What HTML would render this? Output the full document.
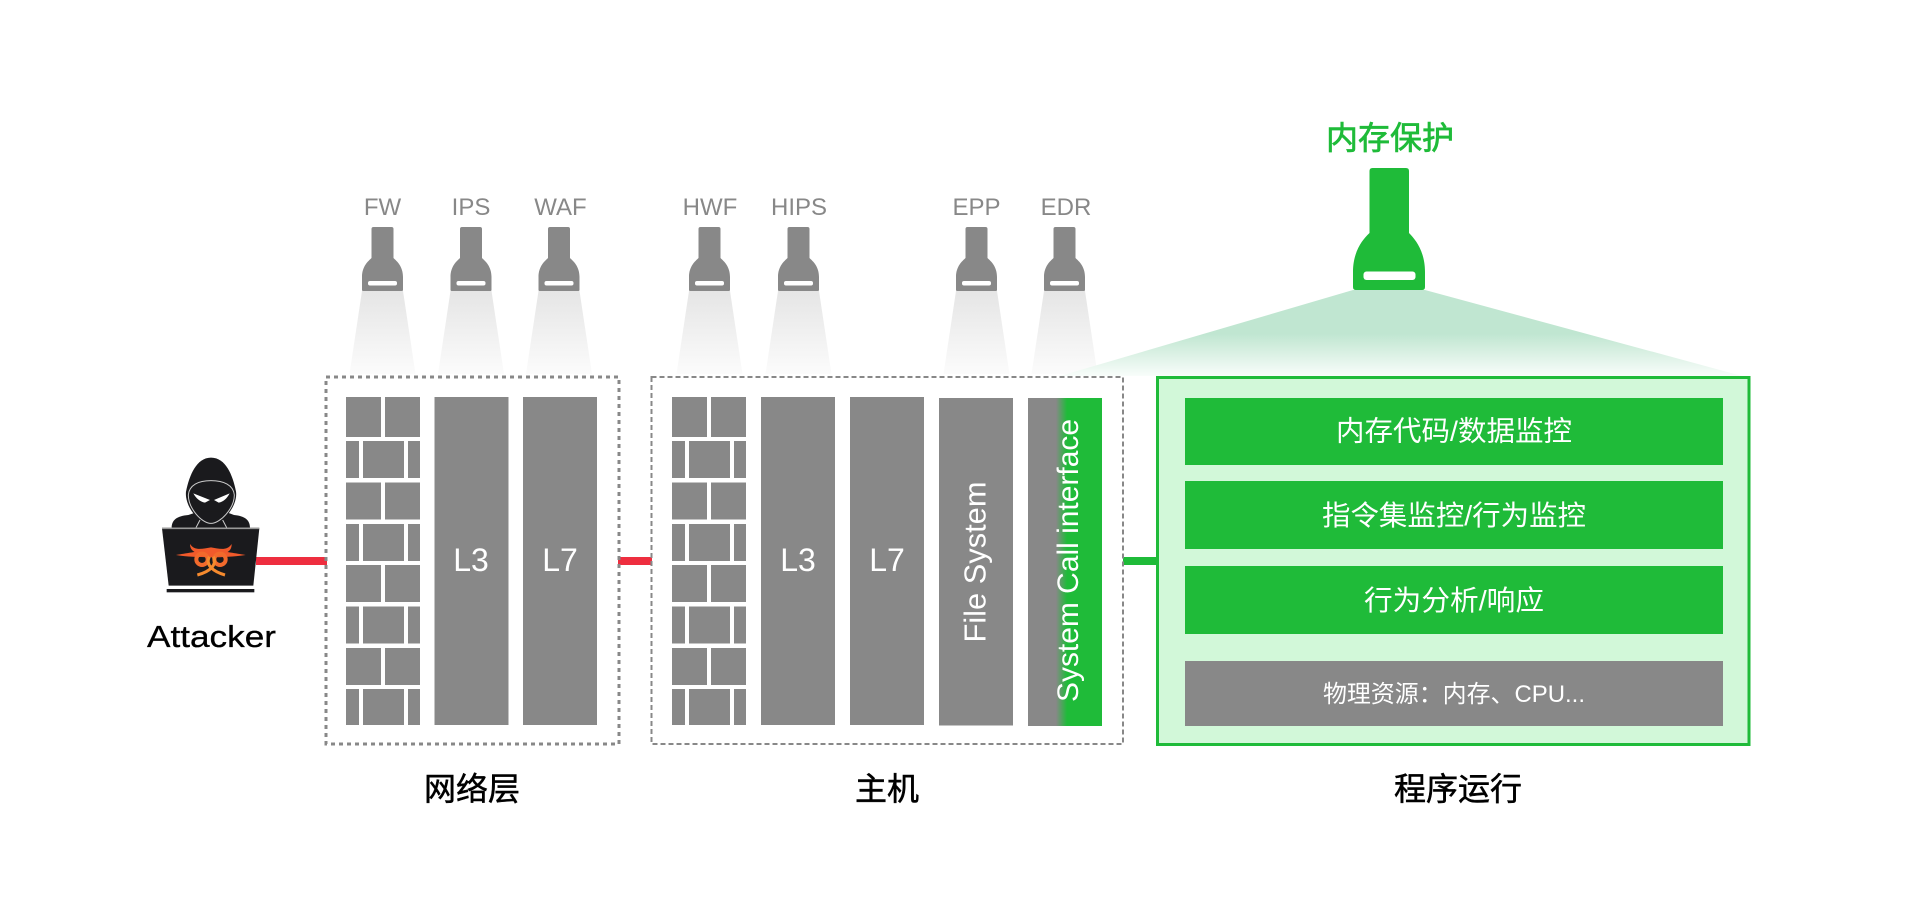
<!DOCTYPE html>
<html lang="zh"><head><meta charset="utf-8"><title>内存保护</title>
<style>
html,body{margin:0;padding:0;background:#fff;width:1920px;height:900px;overflow:hidden}
svg{display:block}
text{font-family:"Liberation Sans","Noto Sans CJK SC",sans-serif}
</style></head><body>
<svg width="1920" height="900" viewBox="0 0 1920 900" xmlns="http://www.w3.org/2000/svg">
<defs>
<linearGradient id="gb" gradientUnits="userSpaceOnUse" x1="0" y1="291" x2="0" y2="376">
<stop offset="0" stop-color="#e5e5e5"/><stop offset="1" stop-color="#fcfcfc"/></linearGradient>
<linearGradient id="ggb" gradientUnits="userSpaceOnUse" x1="0" y1="290" x2="0" y2="378">
<stop offset="0" stop-color="#c0e6d1"/><stop offset=".5" stop-color="#c0e6d1"/><stop offset="1" stop-color="#fbfefc"/></linearGradient>
<linearGradient id="sc" gradientUnits="userSpaceOnUse" x1="1056" y1="0" x2="1067" y2="0">
<stop offset="0" stop-color="#888"/><stop offset="1" stop-color="#1fbb39"/></linearGradient>
<g id="lamp">
<polygon points="-20.5,291 20.5,291 33,374 -33,374" fill="url(#gb)"/>
<path d="M-11,229 Q-11,227 -9,227 H9 Q11,227 11,229 V258 C14,261 20.5,266 20.5,277 V290 Q20.5,291 19.5,291 H-19.5 Q-20.5,291 -20.5,290 V277 C-20.5,266 -14,261 -11,258 Z" fill="#888"/>
<rect x="-14.5" y="281" width="29" height="4.5" rx="2" fill="#fff"/>
</g>
<g id="wall" fill="#888">
<rect x="0" y="397" width="35" height="40"/><rect x="39" y="397" width="35" height="40"/>
<rect x="0" y="441" width="13" height="37"/><rect x="17" y="441" width="41" height="37"/><rect x="62" y="441" width="12" height="37"/>
<rect x="0" y="482.5" width="35" height="37"/><rect x="39" y="482.5" width="35" height="37"/>
<rect x="0" y="524" width="13" height="37"/><rect x="17" y="524" width="41" height="37"/><rect x="62" y="524" width="12" height="37"/>
<rect x="0" y="565" width="35" height="37"/><rect x="39" y="565" width="35" height="37"/>
<rect x="0" y="606.5" width="13" height="37"/><rect x="17" y="606.5" width="41" height="37"/><rect x="62" y="606.5" width="12" height="37"/>
<rect x="0" y="648" width="35" height="37"/><rect x="39" y="648" width="35" height="37"/>
<rect x="0" y="689" width="13" height="36"/><rect x="17" y="689" width="41" height="36"/><rect x="62" y="689" width="12" height="36"/>
</g>
</defs>

<!-- lamps -->
<use href="#lamp" x="382.5"/><use href="#lamp" x="471"/><use href="#lamp" x="559"/>
<use href="#lamp" x="709.5"/><use href="#lamp" x="798.5"/><use href="#lamp" x="976.5"/><use href="#lamp" x="1064.5"/>
<g fill="#888" font-size="24" text-anchor="middle">
<text x="382.5" y="215">FW</text><text x="471" y="215">IPS</text><text x="560.5" y="215">WAF</text>
<text x="710" y="215">HWF</text><text x="799" y="215">HIPS</text><text x="976.5" y="215">EPP</text><text x="1066" y="215">EDR</text>
</g>

<!-- green lamp -->
<polygon points="1353,290 1425,290 1742,376 1060,376" fill="url(#ggb)"/>
<path d="M1369.5,171 Q1369.5,168 1372.5,168 H1406 Q1409,168 1409,171 V233 C1416,240 1425,252 1425,272 V287 Q1425,290 1422,290 H1356 Q1353,290 1353,287 V272 C1353,252 1362,240 1369.5,233 Z" fill="#1fbb39"/>
<rect x="1363.5" y="271.5" width="52" height="8.5" rx="3" fill="#fff"/>
<text x="1390" y="149" font-size="32" fill="#1fbb39" stroke="#1fbb39" stroke-width=".7" text-anchor="middle">内存保护</text>

<!-- connectors -->
<rect x="256" y="557" width="71" height="8" fill="#ee2e3f"/>
<rect x="618" y="557" width="34" height="8" fill="#ee2e3f"/>
<rect x="1123" y="557" width="34" height="8" fill="#1fbb39"/>

<!-- network box -->
<rect x="326" y="377" width="293" height="367" fill="none" stroke="#888" stroke-width="3" stroke-dasharray="4 4"/>
<use href="#wall" x="346"/>
<rect x="434.5" y="397" width="74" height="328" fill="#888"/>
<rect x="523" y="397" width="74" height="328" fill="#888"/>

<!-- host box -->
<rect x="651.5" y="377" width="471.5" height="367" fill="none" stroke="#888" stroke-width="2" stroke-dasharray="5 3"/>
<use href="#wall" x="672"/>
<rect x="761" y="397" width="74" height="328" fill="#888"/>
<rect x="850" y="397" width="74" height="328" fill="#888"/>
<rect x="939" y="398" width="74" height="327.5" fill="#888"/>
<rect x="1028" y="398" width="74" height="328" fill="url(#sc)"/>

<g fill="#fff" font-size="32" text-anchor="middle">
<text x="471" y="571">L3</text><text x="560" y="571">L7</text>
<text x="798" y="571">L3</text><text x="887" y="571">L7</text>
</g>
<text transform="translate(985.5,642.5) rotate(-90)" font-size="31" fill="#fff" textLength="161" lengthAdjust="spacingAndGlyphs">File System</text>
<text transform="translate(1078,702) rotate(-90)" font-size="30" fill="#fff" textLength="283" lengthAdjust="spacingAndGlyphs">System Call interface</text>

<!-- program box -->
<rect x="1157.5" y="377.5" width="591.5" height="367" fill="#d2f8d9" stroke="#1fbb39" stroke-width="3"/>
<rect x="1185" y="398" width="538" height="67" fill="#1fbb39"/>
<rect x="1185" y="481" width="538" height="68" fill="#1fbb39"/>
<rect x="1185" y="566" width="538" height="68" fill="#1fbb39"/>
<rect x="1185" y="661" width="538" height="65" fill="#888"/>
<g fill="#fff" text-anchor="middle">
<text x="1454" y="440.5" font-size="28" textLength="236" lengthAdjust="spacingAndGlyphs">内存代码/数据监控</text>
<text x="1454" y="525" font-size="28" textLength="264" lengthAdjust="spacingAndGlyphs">指令集监控/行为监控</text>
<text x="1454" y="610" font-size="28" textLength="180" lengthAdjust="spacingAndGlyphs">行为分析/响应</text>
<text x="1454" y="702" font-size="24" textLength="262" lengthAdjust="spacingAndGlyphs">物理资源：内存、CPU...</text>
</g>

<!-- captions -->
<g fill="#000" stroke="#000" stroke-width=".5" font-size="32" text-anchor="middle">
<text x="472" y="800">网络层</text><text x="887" y="800">主机</text><text x="1458" y="800">程序运行</text>
</g>
<text x="147" y="647" font-size="31" fill="#000" stroke="#000" stroke-width=".3" textLength="129" lengthAdjust="spacingAndGlyphs">Attacker</text>

<!-- hacker -->
<g transform="translate(130,440) scale(.33333)">
<path d="M243,53 C200,53 178,105 168,155 C165,180 180,215 205,235 L282,235 C305,215 322,180 318,155 C308,105 287,53 243,53Z" fill="#1a1a1d"/>
<path d="M125,264 C125,240 140,228 175,225 L205,215 L285,215 L312,225 C345,228 360,240 360,264Z" fill="#1a1a1d"/>
<path d="M243,122 C205,122 178,135 175,165 C175,205 215,250 243,250 C271,250 313,205 313,165 C310,135 281,122 243,122 Z" fill="none" stroke="#ccc" stroke-width="3"/>
<path d="M210,240 L198,263 M278,240 L290,263" stroke="#ccc" stroke-width="3" fill="none"/>
<path d="M190,160 L240,180 L225,188 C210,185 198,175 190,160 Z M299,160 L252,180 L266,188 C281,185 291,175 299,160 Z" fill="#fff"/>
<path d="M96,265 H388 L370,437 H116Z" fill="#1a1a1d"/>
<path d="M96,265 H388" stroke="#999" stroke-width="5"/>
<rect x="110" y="447" width="263" height="10" fill="#1a1a1d"/>
<path d="M138,345 C170,340 195,335 243,330 C290,335 315,340 347,345 C310,350 280,352 243,352 C205,352 170,350 138,345Z" fill="#f15a2b"/>
<path d="M180,312 C195,335 220,325 243,322 C265,325 290,335 305,312 C305,335 290,345 243,340 C200,345 180,335 180,312 Z" fill="#f15a2b"/>
<circle cx="216" cy="358" r="17" fill="none" stroke="#f26a2c" stroke-width="12"/>
<circle cx="270" cy="358" r="17" fill="none" stroke="#f26a2c" stroke-width="12"/>
<path d="M202,405 C240,395 262,375 250,350 M285,405 C250,395 225,375 238,350" fill="none" stroke="#f58a2e" stroke-width="9"/>
</g>
</svg>
</body></html>
